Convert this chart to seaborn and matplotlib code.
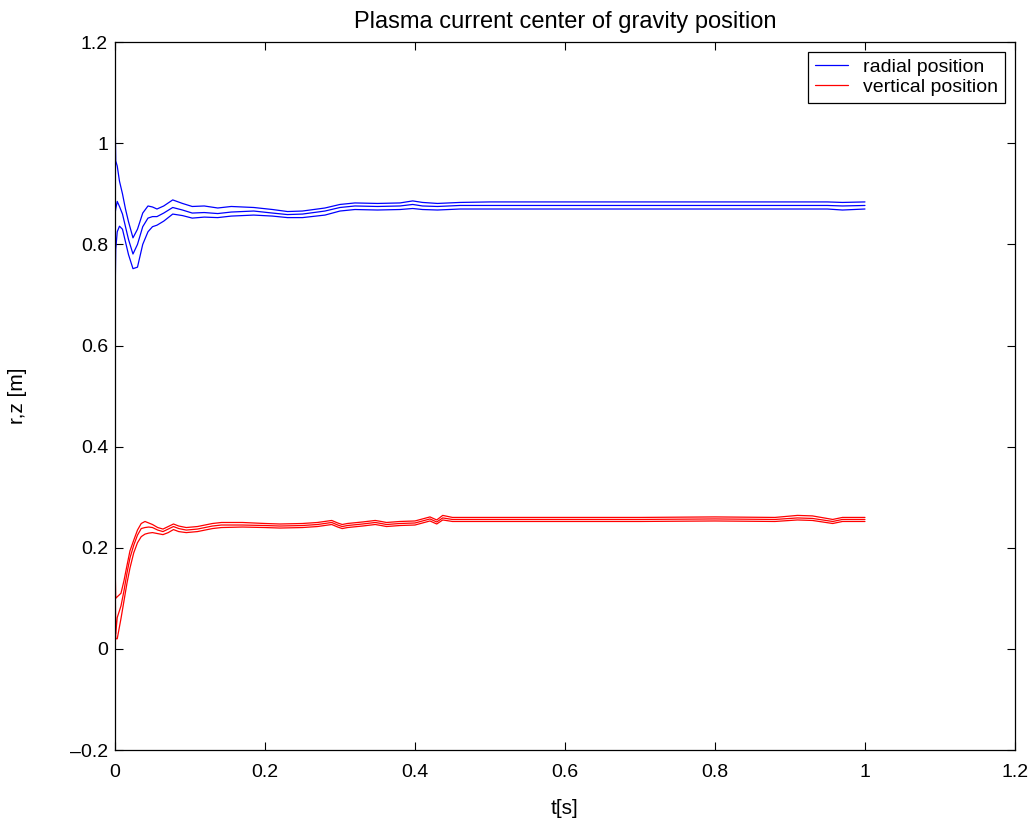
import pandas as pd
import matplotlib
matplotlib.use("Agg")
import matplotlib.pyplot as plt
import seaborn as sns
from matplotlib.ticker import FuncFormatter, MultipleLocator

sns.set_style("white")
plt.rcParams['font.family'] = ['Liberation Sans', 'DejaVu Sans']
plt.rcParams.update({"text.color": "black", "axes.labelcolor": "black",
                     "xtick.color": "black", "ytick.color": "black"})

# radial position (blue): upper bound, centre, lower bound
blue_t = [0, 0.001, 0.003, 0.006, 0.010, 0.014, 0.018, 0.024, 0.030, 0.037, 0.044,
          0.050, 0.056, 0.065, 0.077, 0.090, 0.103, 0.119, 0.137, 0.155, 0.185,
          0.210, 0.230, 0.250, 0.280, 0.300, 0.320, 0.350, 0.380, 0.397, 0.410,
          0.430, 0.460, 0.500, 0.600, 0.700, 0.800, 0.900, 0.950, 0.970, 1.000]
blue_hi = [1.07, 0.965, 0.955, 0.925, 0.900, 0.870, 0.845, 0.813, 0.830, 0.862, 0.876,
           0.874, 0.870, 0.876, 0.888, 0.881, 0.875, 0.876, 0.872, 0.875, 0.873,
           0.869, 0.865, 0.866, 0.872, 0.879, 0.882, 0.881, 0.882, 0.886, 0.883,
           0.881, 0.883, 0.884, 0.884, 0.884, 0.884, 0.884, 0.884, 0.883, 0.884]
blue_mid = [0.860, 0.870, 0.885, 0.875, 0.860, 0.835, 0.810, 0.781, 0.800, 0.835, 0.852,
            0.855, 0.855, 0.862, 0.873, 0.868, 0.862, 0.863, 0.861, 0.864, 0.866,
            0.862, 0.859, 0.860, 0.866, 0.873, 0.876, 0.875, 0.876, 0.879, 0.876,
            0.875, 0.877, 0.877, 0.877, 0.877, 0.877, 0.877, 0.877, 0.876, 0.877]
blue_lo = [0.680, 0.790, 0.825, 0.836, 0.830, 0.805, 0.780, 0.752, 0.755, 0.800, 0.825,
           0.835, 0.838, 0.846, 0.860, 0.857, 0.852, 0.854, 0.853, 0.856, 0.858,
           0.856, 0.853, 0.853, 0.858, 0.866, 0.869, 0.868, 0.869, 0.871, 0.869,
           0.868, 0.870, 0.870, 0.870, 0.870, 0.870, 0.870, 0.870, 0.868, 0.870]

# vertical position (red): upper bound, centre, lower bound
red_t = [0, 0.001, 0.003, 0.008, 0.012, 0.016, 0.020, 0.025, 0.030, 0.035, 0.040,
         0.045, 0.050, 0.057, 0.064, 0.071, 0.078, 0.085, 0.095, 0.110, 0.120,
         0.130, 0.142, 0.170, 0.200, 0.220, 0.250, 0.270, 0.289, 0.297, 0.303,
         0.310, 0.330, 0.347, 0.355, 0.362, 0.380, 0.400, 0.420, 0.429, 0.437,
         0.450, 0.500, 0.600, 0.700, 0.800, 0.880, 0.910, 0.930, 0.957, 0.970, 1.000]
red_hi = [0.178, 0.100, 0.103, 0.110, 0.135, 0.165, 0.194, 0.215, 0.235, 0.248, 0.252,
          0.249, 0.246, 0.240, 0.237, 0.242, 0.247, 0.243, 0.240, 0.242, 0.245,
          0.248, 0.250, 0.250, 0.248, 0.247, 0.248, 0.250, 0.254, 0.249, 0.246,
          0.248, 0.251, 0.254, 0.252, 0.250, 0.252, 0.253, 0.261, 0.255, 0.264,
          0.260, 0.260, 0.260, 0.260, 0.261, 0.260, 0.264, 0.263, 0.256, 0.260, 0.260]
red_mid = [0.175, 0.030, 0.062, 0.085, 0.115, 0.150, 0.180, 0.205, 0.225, 0.238, 0.240,
           0.241, 0.240, 0.235, 0.232, 0.237, 0.242, 0.238, 0.235, 0.237, 0.240,
           0.243, 0.245, 0.245, 0.244, 0.243, 0.244, 0.246, 0.250, 0.245, 0.242,
           0.244, 0.247, 0.250, 0.248, 0.246, 0.248, 0.249, 0.257, 0.251, 0.259,
           0.256, 0.256, 0.256, 0.256, 0.257, 0.256, 0.259, 0.258, 0.252, 0.256, 0.256]
red_lo = [0.100, 0.020, 0.020, 0.060, 0.095, 0.130, 0.160, 0.190, 0.210, 0.222, 0.227,
          0.229, 0.230, 0.228, 0.226, 0.230, 0.236, 0.232, 0.230, 0.232, 0.235,
          0.238, 0.240, 0.241, 0.240, 0.239, 0.240, 0.242, 0.246, 0.241, 0.238,
          0.240, 0.243, 0.246, 0.244, 0.242, 0.244, 0.245, 0.253, 0.247, 0.255,
          0.252, 0.252, 0.252, 0.252, 0.253, 0.252, 0.255, 0.254, 0.248, 0.252, 0.252]

fig = plt.figure(figsize=(10.34, 8.25), dpi=100)
ax = fig.add_axes([0.1112, 0.0909, 0.8704, 0.858])

lw = 0.9
sns.lineplot(x=blue_t, y=blue_mid, color="#0000ff", lw=lw, ax=ax, label="radial position")
sns.lineplot(x=red_t, y=red_mid, color="#ff0000", lw=lw, ax=ax, label="vertical position")
for ys in (blue_hi, blue_lo):
    sns.lineplot(x=blue_t, y=ys, color="#0000ff", lw=lw, ax=ax)
for ys in (red_hi, red_lo):
    sns.lineplot(x=red_t, y=ys, color="#ff0000", lw=lw, ax=ax)

ax.set_xlim(0, 1.2)
ax.set_ylim(-0.2, 1.2)
ax.xaxis.set_major_locator(MultipleLocator(0.2))
ax.yaxis.set_major_locator(MultipleLocator(0.2))
fmt = FuncFormatter(lambda v, p: ("%g" % round(v, 3)).replace("-", "\u2013"))
ax.xaxis.set_major_formatter(fmt)
ax.yaxis.set_major_formatter(fmt)
ax.tick_params(direction="in", length=6, width=0.8, labelsize=14,
               top=True, right=True, bottom=True, left=True)
ax.tick_params(axis="x", pad=10)
ax.tick_params(axis="y", pad=5)
for s in ax.spines.values():
    s.set_color("black")
    s.set_linewidth(0.9)

ax.set_title("Plasma current center of gravity position", fontsize=17, pad=10)
ax.set_xlabel("t[s]", fontsize=15, labelpad=13)
ax.set_ylabel("r,z [m]", fontsize=15, labelpad=31)

leg = ax.legend(loc="upper right", fontsize=14, fancybox=False, edgecolor="black",
                framealpha=1, borderaxespad=0.5, handlelength=1.7, handletextpad=0.8,
                borderpad=0.35, labelspacing=0.1)
leg.get_frame().set_linewidth(0.9)

fig.savefig("out.png", dpi=100)
